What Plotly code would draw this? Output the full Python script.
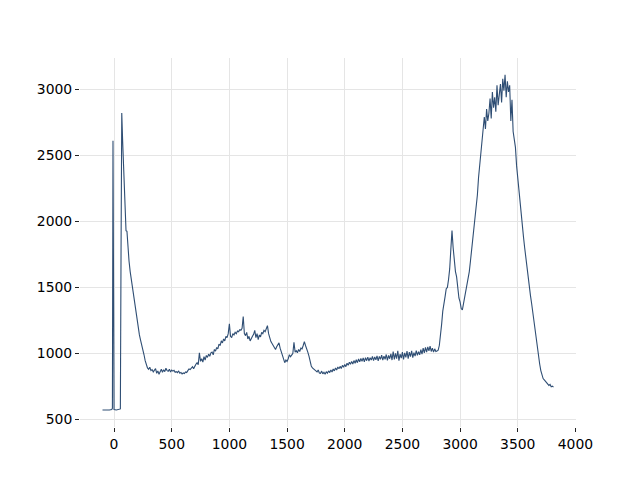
import plotly.graph_objects as go

wavenumber = [-100, -80, -60, -40, -20, -14, -9, -4, 0, 20, 40, 55, 61, 67, 75, 82, 90, 97, 104, 112,
              120, 130, 140, 150, 160, 170, 180, 190, 200, 210, 220, 230, 240, 250, 260, 270, 280, 290]
intensity = [572, 571, 573, 572, 576, 585, 2610, 590, 575, 572, 574, 580, 1800, 2820, 2600, 2400, 2150, 1960, 1930, 1925,
             1800, 1700, 1620, 1560, 1500, 1430, 1360, 1290, 1240, 1180, 1140, 1100, 1070, 1040, 990, 945, 910, 890]

rest = [880, 895, 870, 878, 860, 872, 885, 850, 868, 842, 870, 880, 858, 876, 862, 888, 870, 865, 880, 860,
        874, 866, 872, 858, 862, 855, 868, 850, 856, 845, 852, 848, 860, 855, 870, 882, 878, 890, 900, 885,
        905, 918, 930, 915, 1005, 940, 960, 935, 975, 950, 985, 970, 995, 978, 1005, 1010, 990, 1030, 1018, 1045,
        1035, 1070, 1060, 1095, 1080, 1110, 1095, 1130, 1120, 1150, 1225, 1130, 1120, 1150, 1140, 1160, 1150, 1170, 1165, 1180,
        1175, 1190, 1280, 1150, 1135, 1160, 1110, 1130, 1095, 1120, 1130, 1145, 1175, 1120, 1150, 1105, 1140, 1125, 1160, 1150,
        1175, 1165, 1195, 1210, 1150, 1110, 1090, 1075, 1060, 1045, 1030, 1050, 1070, 1080, 1040, 1010, 985, 960, 930, 950,
        940, 960, 990, 975, 990, 1000, 1085, 1010, 1020, 1005, 1030, 1015, 1040, 1035, 1060, 1090, 1060, 1040, 1010, 980,
        940, 905, 890, 880, 875, 868, 860, 875, 852, 850, 866, 845, 858, 842, 862, 850, 868, 855, 874, 860,
        882, 868, 890, 874, 897, 884, 902, 886, 910, 895, 916, 900, 926, 910, 934, 918, 940, 920, 946, 926,
        952, 930, 958, 936, 962, 940, 966, 936, 968, 945, 972, 942, 968, 950, 978, 946, 974, 952, 982, 944,
        978, 955, 988, 950, 980, 956, 992, 948, 985, 960, 996, 950, 1015, 955, 1000, 960, 1020, 945, 995, 965,
        1010, 955, 1005, 970, 1018, 960, 1010, 975, 1020, 968, 1006, 980, 1022, 985, 1014, 990, 1028, 995, 1040, 1005,
        1046, 1010, 1050, 1020, 1055, 1015, 1040, 1010, 1035, 1015, 1018, 1025, 1060, 1130, 1220, 1320, 1400, 1430, 1490, 1500,
        1560, 1640, 1790, 1930, 1800, 1700, 1620, 1580, 1480, 1420, 1390, 1340, 1330, 1380, 1420, 1460, 1520, 1580, 1620, 1700,
        1780, 1880, 1940, 2010, 2100, 2200, 2330, 2420, 2560, 2640, 2720, 2790, 2700, 2850, 2760, 2820, 2930, 2780, 2980, 2860,
        2940, 2830, 3030, 2880, 2960, 3040, 2900, 3080, 2990, 3110, 2940, 3060, 2980, 3030, 2760, 2920, 2680, 2600, 2560, 2420,
        2320, 2220, 2140, 2040, 1960, 1880, 1800, 1720, 1640, 1560, 1500, 1440, 1380, 1310, 1260, 1180, 1100, 1050, 960, 920,
        870, 830, 810, 800, 790, 775, 770, 758, 765, 748, 752, 745]

wavenumber = wavenumber + list(range(300, 300 + 10 * len(rest), 10))
intensity = intensity + rest

x_ticks = [0, 500, 1000, 1500, 2000, 2500, 3000, 3500, 4000]
y_ticks = [500, 1000, 1500, 2000, 2500, 3000]

fig = go.Figure()
fig.add_trace(go.Scatter(x=wavenumber, y=intensity, mode="lines",
                         line=dict(color="#2f4e74", width=1.1), showlegend=False))

axis_common = dict(showgrid=True, gridcolor="#e5e5e5", gridwidth=1, zeroline=False,
                   showline=False, ticks="outside", ticklen=4, tickwidth=1, tickcolor="#222222",
                   tickfont=dict(family="DejaVu Sans", size=13.9, color="#000000"))

fig.update_layout(
    width=640, height=480,
    margin=dict(l=72, r=72, t=50, b=61),
    paper_bgcolor="white", plot_bgcolor="white",
    xaxis=dict(range=[-295, 4005], tickvals=x_ticks, ticktext=[str(v) for v in x_ticks], **axis_common),
    yaxis=dict(range=[443, 3237], tickvals=y_ticks, ticktext=[str(v) for v in y_ticks], **axis_common),
)

fig.write_html("out.html")
